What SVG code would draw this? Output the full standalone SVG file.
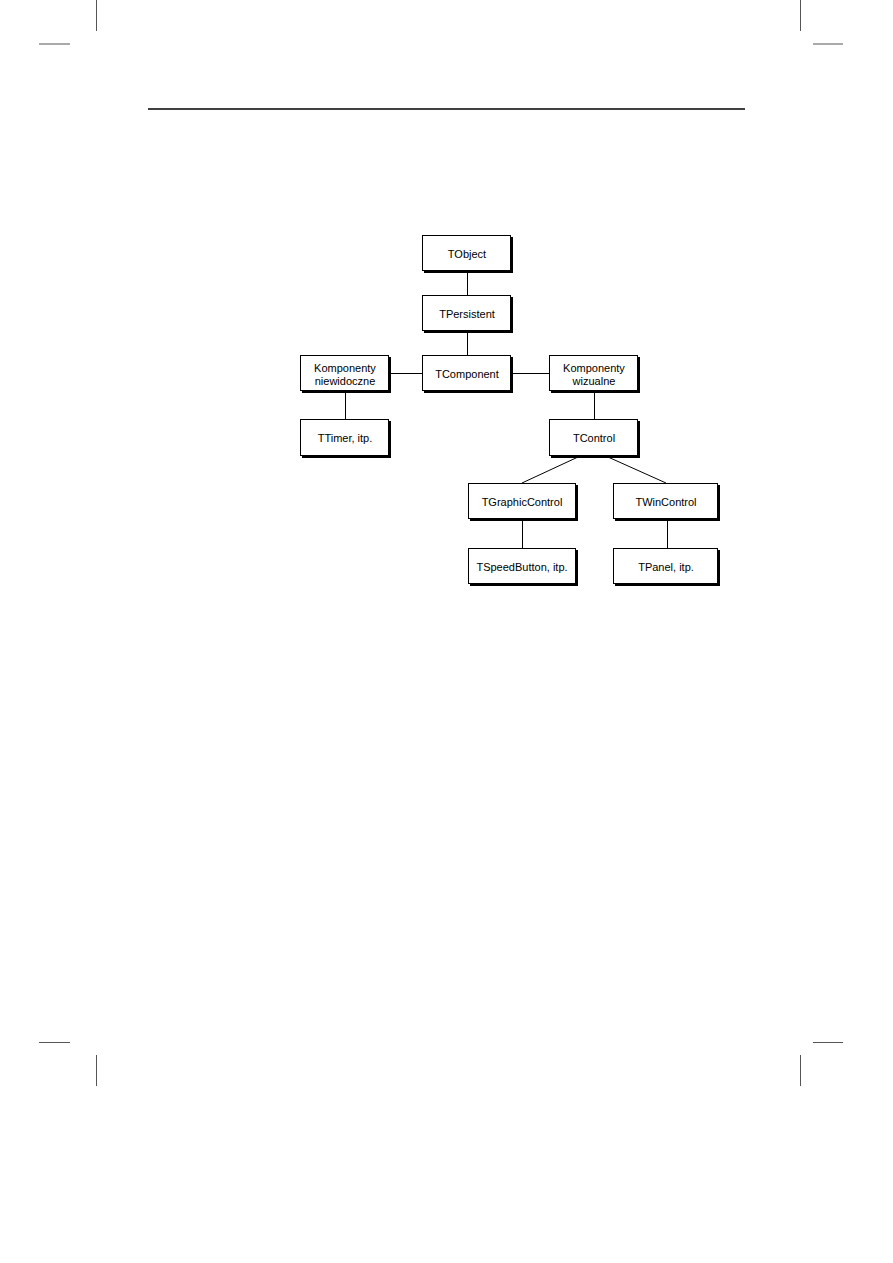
<svg xmlns="http://www.w3.org/2000/svg" width="893" height="1263" viewBox="0 0 893 1263">
<style>
.box{fill:#fff;stroke:#000;stroke-width:1}
.sh{fill:#000}
.lbl{font-family:"Liberation Sans",Arial,sans-serif;font-size:11px;fill:#000;text-anchor:middle}
.con line{stroke:#000;stroke-width:1}
.crop{stroke:#555;stroke-width:1}
</style>
<rect width="893" height="1263" fill="#fff"/>
<g id="page">
<line class="crop" x1="96.5" y1="0" x2="96.5" y2="31"/>
<line class="crop" x1="800.5" y1="0" x2="800.5" y2="31"/>
<line class="crop" x1="39" y1="44" x2="70" y2="44" stroke-width="1.3"/>
<line class="crop" x1="813" y1="44" x2="843" y2="44" stroke-width="1.3"/>
<line x1="148" y1="109" x2="745" y2="109" stroke="#000" stroke-width="1.5"/>
<line class="crop" x1="39" y1="1042.5" x2="70" y2="1042.5"/>
<line class="crop" x1="813" y1="1042.5" x2="843" y2="1042.5"/>
<line class="crop" x1="96.5" y1="1055" x2="96.5" y2="1086"/>
<line class="crop" x1="800.5" y1="1055" x2="800.5" y2="1086"/>
</g>
<g class="con" id="connectors">
<line x1="467.5" y1="271" x2="467.5" y2="295"/>
<line x1="467.5" y1="332" x2="467.5" y2="355"/>
<line x1="391" y1="373.5" x2="423" y2="373.5"/>
<line x1="512" y1="373.5" x2="549" y2="373.5"/>
<line x1="345.5" y1="392" x2="345.5" y2="420"/>
<line x1="594.5" y1="392" x2="594.5" y2="420"/>
<line x1="578" y1="457" x2="522" y2="483"/>
<line x1="608" y1="457" x2="666" y2="483"/>
<line x1="522.5" y1="520" x2="522.5" y2="548"/>
<line x1="667.5" y1="520" x2="667.5" y2="548"/>
</g>
<g id="TObject"><rect class="sh" x="424" y="237" width="89" height="36"/><rect class="box" x="422.5" y="235.5" width="88" height="35"/><text class="lbl" x="467" y="257.5">TObject</text></g>
<g id="TPersistent"><rect class="sh" x="424" y="297" width="89" height="36"/><rect class="box" x="422.5" y="295.5" width="88" height="35"/><text class="lbl" x="467" y="317.5">TPersistent</text></g>
<g id="TComponent"><rect class="sh" x="424" y="357" width="89" height="36"/><rect class="box" x="422.5" y="355.5" width="88" height="35"/><text class="lbl" x="467" y="377.5">TComponent</text></g>
<g id="KomponentyNiewidoczne"><rect class="sh" x="302" y="357" width="89" height="36"/><rect class="box" x="300.5" y="355.5" width="88" height="35"/><text class="lbl" x="345" y="371.5">Komponenty</text><text class="lbl" x="345" y="384.5">niewidoczne</text></g>
<g id="KomponentyWizualne"><rect class="sh" x="551" y="357" width="89" height="36"/><rect class="box" x="549.5" y="355.5" width="88" height="35"/><text class="lbl" x="594" y="371.5">Komponenty</text><text class="lbl" x="594" y="384.5">wizualne</text></g>
<g id="TTimer"><rect class="sh" x="302" y="421" width="89" height="37"/><rect class="box" x="300.5" y="419.5" width="88" height="36"/><text class="lbl" x="345" y="442">TTimer, itp.</text></g>
<g id="TControl"><rect class="sh" x="551" y="421" width="89" height="37"/><rect class="box" x="549.5" y="419.5" width="88" height="36"/><text class="lbl" x="594" y="442">TControl</text></g>
<g id="TGraphicControl"><rect class="sh" x="470" y="485" width="108" height="36"/><rect class="box" x="468.5" y="483.5" width="107" height="35"/><text class="lbl" x="522" y="505.5">TGraphicControl</text></g>
<g id="TWinControl"><rect class="sh" x="615" y="485" width="105" height="36"/><rect class="box" x="613.5" y="483.5" width="104" height="35"/><text class="lbl" x="666" y="505.5">TWinControl</text></g>
<g id="TSpeedButton"><rect class="sh" x="470" y="550" width="108" height="36"/><rect class="box" x="468.5" y="548.5" width="107" height="35"/><text class="lbl" x="522" y="570.5">TSpeedButton, itp.</text></g>
<g id="TPanel"><rect class="sh" x="615" y="550" width="105" height="36"/><rect class="box" x="613.5" y="548.5" width="104" height="35"/><text class="lbl" x="666" y="570.5">TPanel, itp.</text></g>
</svg>
